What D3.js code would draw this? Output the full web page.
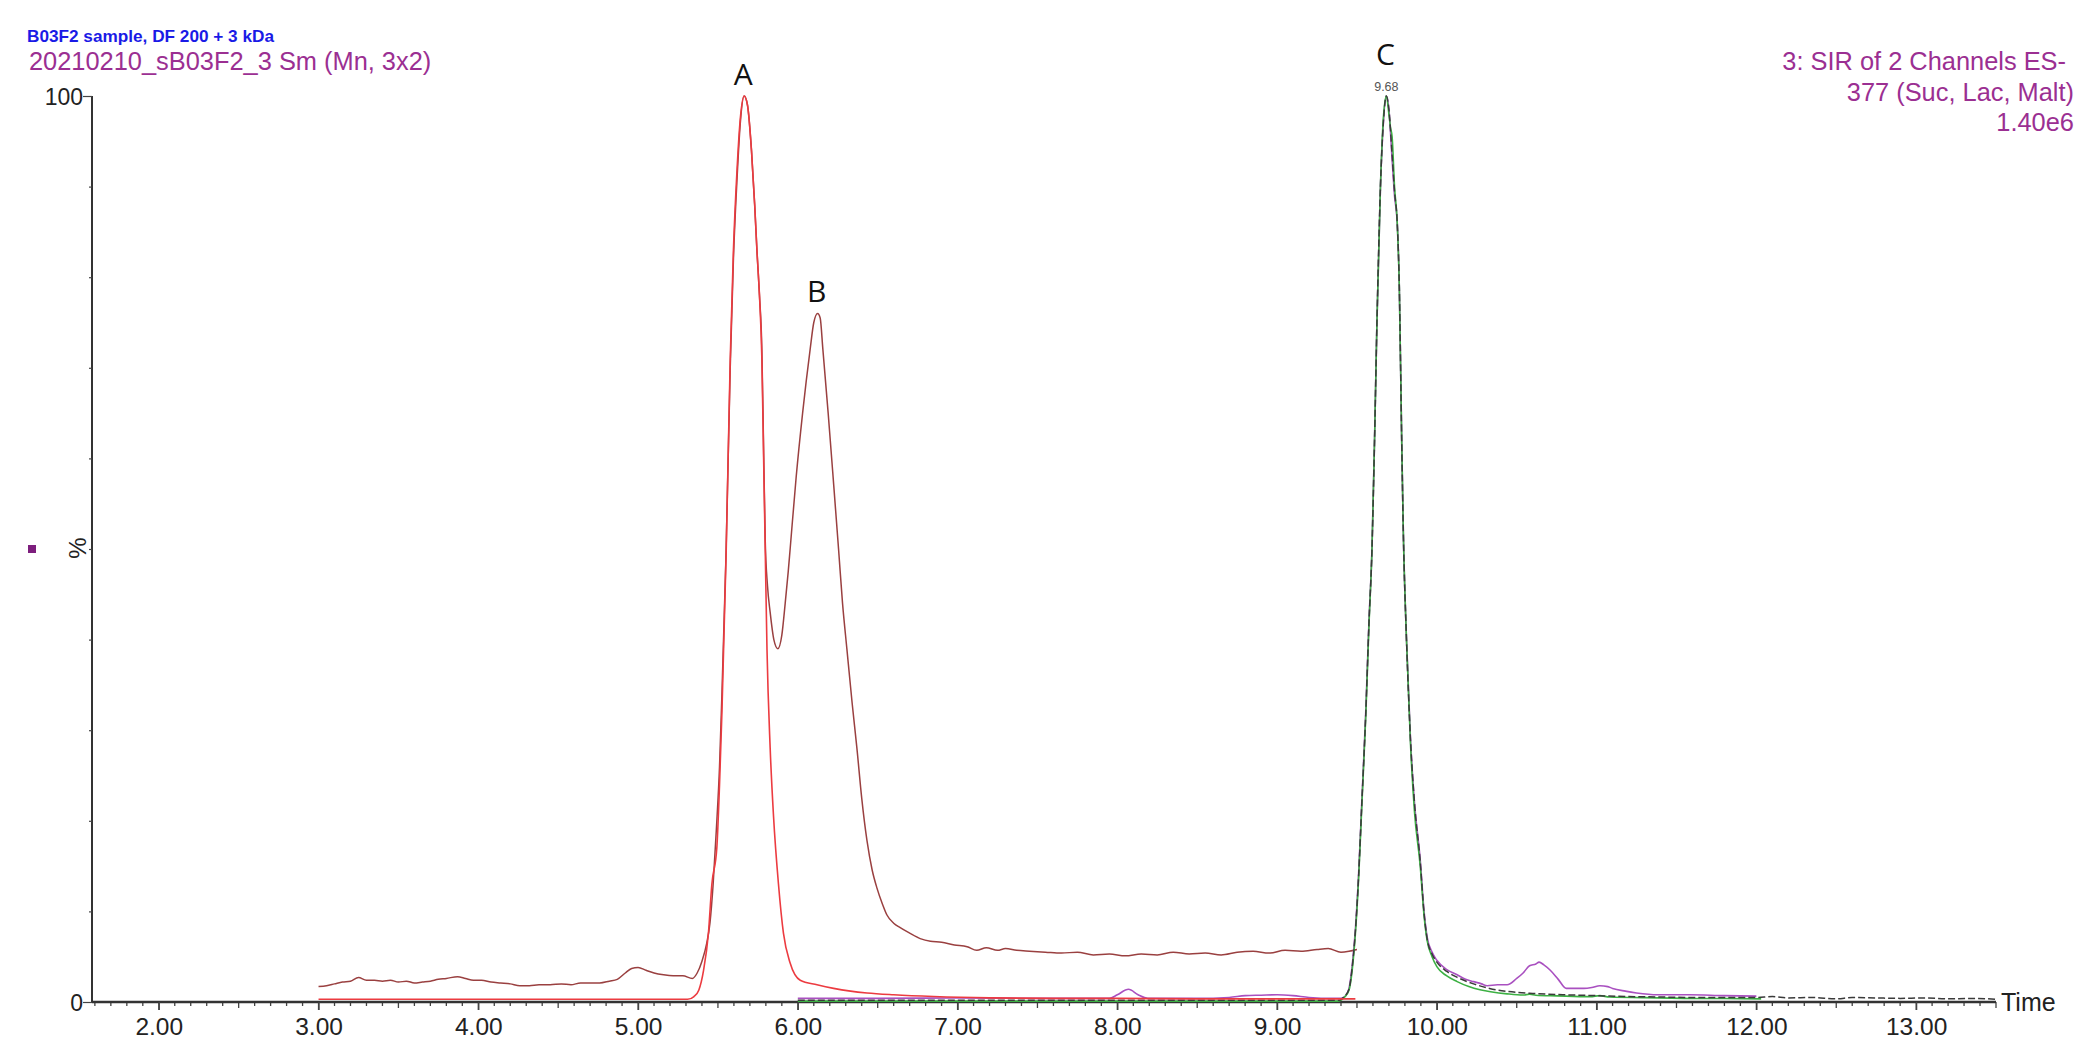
<!DOCTYPE html>
<html>
<head>
<meta charset="utf-8">
<script src="https://cdn.jsdelivr.net/npm/d3@7"></script>
<style>
  html, body { margin: 0; padding: 0; background: #ffffff; }
  svg { display: block; }
</style>
</head>
<body>
<script>
// ---------------- DATA ----------------
const xMajorTicks = [2, 3, 4, 5, 6, 7, 8, 9, 10, 11, 12, 13];
const xTickLabels = ["2.00", "3.00", "4.00", "5.00", "6.00", "7.00", "8.00", "9.00", "10.00", "11.00", "12.00", "13.00"];
const yTicks = [0, 10, 20, 30, 40, 50, 60, 70, 80, 90, 100];
const yTickLabels = { 0: "0", 100: "100" };

// trace 1: brown (sample total ion, peaks A and B)
const brownTrace = [
  [3.00,1.7],[3.05,1.8],[3.10,2.0],[3.15,2.2],[3.20,2.3],[3.25,2.7],[3.30,2.4],[3.35,2.4],[3.40,2.3],[3.45,2.4],
  [3.50,2.2],[3.55,2.3],[3.60,2.1],[3.65,2.2],[3.70,2.3],[3.75,2.5],[3.80,2.6],[3.87,2.8],[3.92,2.6],[3.97,2.4],
  [4.02,2.4],[4.08,2.2],[4.14,2.1],[4.20,2.0],[4.26,1.8],[4.32,1.8],[4.38,1.9],[4.45,1.9],[4.52,2.0],[4.58,1.9],
  [4.64,2.1],[4.70,2.1],[4.76,2.1],[4.82,2.3],[4.87,2.5],[4.92,3.2],[4.96,3.7],[5.00,3.8],[5.05,3.5],[5.10,3.2],
  [5.16,3.0],[5.22,2.9],[5.28,2.9],[5.34,2.6],[5.37,3.2],[5.40,4.5],[5.43,6.5],[5.45,8.7],[5.47,13],[5.49,19],
  [5.51,26],[5.525,34],[5.55,49],[5.577,70],[5.597,82],[5.62,91],[5.64,97],[5.664,100],[5.685,99],[5.71,94],
  [5.73,88],[5.744,83],[5.76,78],[5.775,72],[5.785,62],[5.796,51],[5.81,46],[5.827,43],[5.85,40],[5.875,39],
  [5.90,40.5],[5.921,44],[5.94,47.5],[5.952,50],[5.99,58],[6.03,65],[6.077,72],[6.10,75],[6.124,76],[6.14,75.5],
  [6.157,72],[6.19,65],[6.225,57],[6.255,50],[6.28,44],[6.307,39],[6.34,33],[6.37,28],[6.40,22.5],[6.433,17.8],
  [6.465,14.6],[6.495,12.6],[6.53,10.8],[6.558,9.6],[6.60,8.7],[6.641,8.2],[6.70,7.6],[6.766,7.0],[6.83,6.7],[6.90,6.6],
  [6.98,6.3],[7.06,6.1],[7.12,5.7],[7.18,6.0],[7.25,5.7],[7.30,5.9],[7.37,5.7],[7.45,5.6],[7.55,5.5],[7.65,5.4],
  [7.75,5.5],[7.85,5.2],[7.95,5.3],[8.05,5.1],[8.15,5.3],[8.25,5.2],[8.35,5.5],[8.45,5.3],[8.55,5.4],[8.65,5.2],
  [8.75,5.5],[8.85,5.6],[8.95,5.4],[9.05,5.7],[9.15,5.6],[9.25,5.8],[9.32,5.9],[9.40,5.5],[9.45,5.6],[9.50,5.8]
];

// trace 2: red (peak A channel)
const redTrace = [
  [3.00,0.3],[3.50,0.3],[4.00,0.3],[4.50,0.3],[5.00,0.3],[5.31,0.3],[5.35,0.6],[5.38,1.3],[5.41,3.5],[5.44,7.5],
  [5.462,13],[5.493,17],[5.51,24],[5.525,32],[5.552,50],[5.577,71],[5.597,83],[5.62,92],[5.64,97.5],[5.664,100],
  [5.685,99],[5.71,94],[5.73,88],[5.744,83],[5.76,78],[5.775,71],[5.786,60],[5.796,50],[5.807,39],[5.827,28],
  [5.848,20.5],[5.879,13],[5.91,7.6],[5.952,4.3],[6.015,2.4],[6.12,1.9],[6.224,1.5],[6.33,1.2],[6.433,1.0],[6.60,0.8],
  [6.85,0.6],[7.20,0.45],[7.60,0.4],[8.00,0.4],[8.50,0.35],[9.00,0.35],[9.49,0.35]
];

// trace 3: purple (peak C channel with 10.6 shoulder)
const purpleTrace = [
  [6.00,0.4],[6.50,0.4],[7.00,0.45],[7.50,0.4],[7.95,0.4],[8.00,0.8],[8.07,1.4],[8.13,0.8],[8.19,0.4],[8.50,0.4],
  [8.70,0.5],[8.80,0.7],[8.90,0.75],[9.00,0.8],[9.10,0.7],[9.20,0.5],[9.35,0.4],[9.40,0.4],[9.43,0.7],[9.45,1.5],
  [9.47,4],[9.49,8],[9.51,14],[9.53,22],[9.555,32],[9.575,42],[9.594,50],[9.61,62],[9.625,75],[9.647,90],
  [9.665,97],[9.684,100],[9.70,98.5],[9.72,93],[9.735,89],[9.752,86],[9.765,79],[9.78,62],[9.79,52],[9.81,40],
  [9.835,29],[9.86,22],[9.896,15.7],[9.92,10],[9.939,7.2],[9.97,5.5],[10.00,4.6],[10.06,3.6],[10.127,3.0],[10.18,2.5],
  [10.23,2.25],[10.28,2.0],[10.315,1.8],[10.38,1.9],[10.44,1.9],[10.50,2.6],[10.54,3.2],[10.58,4.0],[10.62,4.2],[10.64,4.4],
  [10.67,4.1],[10.71,3.5],[10.76,2.5],[10.81,1.5],[10.87,1.5],[10.92,1.5],[10.97,1.6],[11.02,1.8],[11.07,1.7],[11.10,1.5],
  [11.18,1.2],[11.25,1.0],[11.38,0.8],[11.58,0.8],[11.80,0.7],[12.00,0.65]
];

// trace 4: green (peak C channel)
const greenTrace = [
  [6.00,0.1],[7.00,0.1],[8.00,0.1],[9.00,0.1],[9.38,0.1],[9.42,0.5],[9.45,1.3],[9.47,3.5],[9.49,7.5],[9.51,13.5],
  [9.53,21.5],[9.555,31.5],[9.575,41.5],[9.594,50],[9.61,62],[9.625,75],[9.647,90],[9.665,97.5],[9.684,100],[9.70,98],
  [9.71,96.5],[9.72,95.5],[9.735,90],[9.752,86],[9.765,79],[9.78,62],[9.79,52],[9.81,40],[9.835,28.5],[9.86,21],
  [9.896,15],[9.92,9.5],[9.939,6.8],[9.97,5.0],[10.00,3.9],[10.06,2.9],[10.127,2.25],[10.20,1.7],[10.27,1.35],[10.336,1.14],
  [10.44,0.9],[10.54,0.77],[10.58,0.85],[10.62,0.75],[10.75,0.68],[10.96,0.59],[11.02,0.7],[11.08,0.55],[11.30,0.48],[11.55,0.4],
  [11.80,0.38],[12.03,0.35]
];

// trace 5: dark grey (peak C channel, runs to end of window)
const darkTrace = [
  [6.00,0.2],[7.00,0.2],[8.00,0.2],[9.00,0.2],[9.39,0.2],[9.42,0.6],[9.45,1.4],[9.47,3.8],[9.49,7.8],[9.51,13.8],
  [9.53,21.8],[9.555,31.8],[9.575,41.8],[9.594,50],[9.61,62],[9.625,75],[9.647,90],[9.665,97],[9.684,100],[9.70,98.5],
  [9.72,93.5],[9.735,89.5],[9.752,86],[9.765,79],[9.78,62],[9.79,52],[9.81,40],[9.835,29],[9.86,22],[9.896,15.5],
  [9.92,9.8],[9.939,7.0],[9.97,5.3],[10.00,4.4],[10.06,3.4],[10.13,2.7],[10.23,2.0],[10.33,1.5],[10.45,1.15],[10.60,0.95],
  [10.80,0.8],[11.00,0.7],[11.20,0.6],[11.40,0.55],[11.60,0.5],[11.80,0.5],[12.00,0.5],[12.10,0.6],[12.20,0.45],[12.35,0.5],
  [12.50,0.35],[12.60,0.5],[12.75,0.45],[12.90,0.4],[13.05,0.45],[13.20,0.35],[13.35,0.4],[13.50,0.3]
];

const peakLabels = [
  { name: "A", t: 5.664, v: 100 },
  { name: "B", t: 6.124, v: 76 },
  { name: "C", t: 9.684, v: 100 }
];

// ---------------- CHART ----------------
const W = 2096, H = 1052;
const svg = d3.select("body").append("svg").attr("width", W).attr("height", H)
  .style("font-family", "'Liberation Sans', Arial, sans-serif");

const x = d3.scaleLinear().domain([1.582, 13.50]).range([92, 1996]);
const y = d3.scaleLinear().domain([0, 100]).range([1002, 96]);

// header texts
svg.append("text").attr("x", 27).attr("y", 42)
  .attr("fill", "#1a1ae6").attr("font-weight", "bold").attr("font-size", 17)
  .attr("textLength", 247).attr("lengthAdjust", "spacingAndGlyphs")
  .text("B03F2 sample, DF 200 + 3 kDa");
svg.append("text").attr("x", 29).attr("y", 70)
  .attr("fill", "#9b2f92").attr("font-size", 25.4)
  .text("20210210_sB03F2_3 Sm (Mn, 3x2)");

const rightLines = [
  { txt: "3: SIR of 2 Channels ES-", x: 2066, y: 70 },
  { txt: "377 (Suc, Lac, Malt)", x: 2074, y: 101 },
  { txt: "1.40e6", x: 2074, y: 131 }
];
svg.selectAll("text.rt").data(rightLines).enter().append("text")
  .attr("class", "rt").attr("x", d => d.x).attr("y", d => d.y)
  .attr("text-anchor", "end").attr("fill", "#9b2f92").attr("font-size", 25.4)
  .text(d => d.txt);

// y axis
const gy = svg.append("g").attr("transform", "translate(92,0)");
gy.call(d3.axisLeft(y).tickValues(yTicks).tickSize(3)
  .tickFormat(d => yTickLabels[d] !== undefined ? yTickLabels[d] : ""));
gy.select(".domain").attr("stroke", "#333").attr("stroke-width", 2).attr("d", `M0,${y(100)}V${y(0)}`);
gy.selectAll(".tick line").attr("stroke", "#444").attr("stroke-width", 1.2)
  .attr("x2", d => (d === 0 || d === 100) ? -9 : -3);
gy.selectAll(".tick text").attr("x", -9).attr("dy", "0.36em")
  .attr("font-size", 23).attr("fill", "#222")
  .style("font-family", "'Liberation Sans', Arial, sans-serif");

// % label and purple marker
svg.append("text").attr("transform", "translate(78,548) rotate(-90)")
  .attr("text-anchor", "middle").attr("dy", "0.35em").attr("font-size", 24).attr("fill", "#222").text("%");
svg.append("rect").attr("x", 28).attr("y", 545).attr("width", 8).attr("height", 8).attr("fill", "#7d1e7d");

// x axis: minor ticks every 0.1, medium every 0.5, major at integers
const minorTicks = d3.range(16, 136).map(i => i / 10);
const gMinor = svg.append("g").attr("transform", `translate(0,${y(0)})`);
gMinor.selectAll("line").data(minorTicks).enter().append("line")
  .attr("x1", d => x(d)).attr("x2", d => x(d))
  .attr("y1", 0).attr("y2", d => (Math.abs(d - Math.round(d)) < 1e-6) ? 8 : (Math.abs(d * 2 - Math.round(d * 2)) < 1e-6 ? 6 : 4))
  .attr("stroke", "#444").attr("stroke-width", 1.3);

const gx = svg.append("g").attr("transform", `translate(0,${y(0)})`);
gx.call(d3.axisBottom(x).tickValues(xMajorTicks).tickSize(8).tickPadding(8)
  .tickFormat((d, i) => xTickLabels[i]));
gx.select(".domain").attr("stroke", "#333").attr("stroke-width", 2.6).attr("d", `M${x(1.582)},0H${x(13.5)}`);
gx.selectAll(".tick line").attr("stroke", "#444").attr("stroke-width", 1.3);
gx.selectAll(".tick text").attr("font-size", 24.5).attr("fill", "#222")
  .style("font-family", "'Liberation Sans', Arial, sans-serif");

svg.append("text").attr("x", 2001).attr("y", y(0)).attr("dy", "0.36em")
  .attr("font-size", 25).attr("fill", "#222").text("Time");

// traces
const line = d3.line().x(d => x(d[0])).y(d => y(d[1])).curve(d3.curveMonotoneX);
const traces = [
  { data: brownTrace, color: "#9a4040", w: 1.5 },
  { data: purpleTrace, color: "#a950c0", w: 1.6 },
  { data: greenTrace, color: "#3cb043", w: 1.6 },
  { data: darkTrace, color: "#3a3a3a", w: 1.5, dash: "7,3" },
  { data: redTrace, color: "#ec3b40", w: 1.6 }
];
svg.append("g").selectAll("path").data(traces).enter().append("path")
  .attr("d", d => line(d.data))
  .attr("fill", "none")
  .attr("stroke", d => d.color)
  .attr("stroke-width", d => d.w)
  .attr("stroke-dasharray", d => d.dash || null)
  .attr("stroke-linejoin", "round");

// peak labels
const labelFont = "'Open Sans', 'Noto Sans', sans-serif";
svg.selectAll("text.pk").data(peakLabels).enter().append("text")
  .attr("class", "pk")
  .attr("x", d => x(d.t) - 1)
  .attr("y", d => d.name === "C" ? y(d.v) - 31 : y(d.v) - 11)
  .attr("text-anchor", "middle").attr("font-size", 30).attr("fill", "#111")
  .style("font-family", labelFont)
  .text(d => d.name);

svg.append("text").attr("x", x(9.684)).attr("y", y(100) - 5)
  .attr("text-anchor", "middle").attr("font-size", 12.5).attr("fill", "#555")
  .text("9.68");
</script>
</body>
</html>
